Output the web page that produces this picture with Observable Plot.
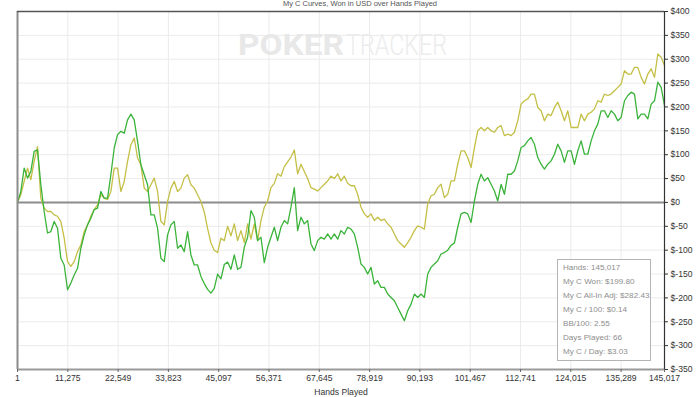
<!DOCTYPE html>
<html><head><meta charset="utf-8">
<script src="https://cdn.jsdelivr.net/npm/d3@7"></script>
<script src="https://cdn.jsdelivr.net/npm/@observablehq/plot@0.6"></script>
<style>
body{margin:0;background:#fff;}
#wrap{position:relative;width:700px;height:397px;overflow:hidden;font-family:"Liberation Sans",Arial,sans-serif;background:#fff;}
#title{position:absolute;left:0;width:720px;top:0px;text-align:center;font-size:7.5px;line-height:8px;color:#555;}
#stats{position:absolute;left:557px;top:259px;width:94px;height:102px;border:1px solid #b4b4b4;background:#fff;box-sizing:border-box;padding:1px 0 0 5px;font-size:8.1px;line-height:14px;color:#8e8e8e;white-space:nowrap;}
#wm{position:absolute;left:0;top:0;pointer-events:none;}
#plotbox{position:absolute;left:0;top:0;}
</style></head><body><div id="wrap"><div id="plotbox"></div><svg id="wm" width="700" height="397"></svg><div id="title"></div><div id="stats"></div></div>
<script>
const titleText = "My C Curves, Won in USD over Hands Played";
const xLabel = "Hands Played";
const xTicks = [1, 11275, 22549, 33823, 45097, 56371, 67645, 78919, 90193, 101467, 112741, 124015, 135289, 145017];
const yTicks = [-350, -300, -250, -200, -150, -100, -50, 0, 50, 100, 150, 200, 250, 300, 350, 400];
const totalHands = 145017;
const statLines = ["Hands: 145,017", "My C Won: $199.80", "My C All-In Adj: $282.43", "My C / 100: $0.14", "BB/100: 2.55", "Days Played: 66", "My C / Day: $3.03"];

// My C Won (green), sampled evenly over hands 1..145,017
const wonValues = [0,23,72,51,65,107,110,37,-19,-64,-61,-40,-54,-117,-131,-183,-169,-152,-138,-96,
-68,-47,-33,-15,-12,23,9,9,58,114,142,149,145,173,185,173,128,79,58,37,
-26,-26,-54,-117,-124,-68,-47,-40,-96,-89,-103,-61,-110,-131,-131,-155,-170,-182,-190,-180,
-150,-160,-130,-125,-140,-110,-140,-136,-94,-73,-17,-31,-80,-73,-126,-94,-73,-52,-80,-52,
-38,-45,-10,31,-59,-31,-45,-38,-87,-101,-80,-73,-77,-66,-77,-66,-77,-59,-66,-52,
-56,-66,-94,-129,-136,-150,-136,-171,-164,-178,-178,-192,-199,-206,-220,-234,-248,-227,-213,-192,
-199,-192,-199,-150,-136,-129,-122,-108,-105,-100,-90,-85,-52,-24,-21,-24,-42,3,38,59,
45,52,38,24,3,38,17,59,59,66,87,115,119,129,136,122,94,80,70,80,
87,101,122,108,84,108,108,80,108,129,101,101,129,150,164,192,192,178,192,185,
171,178,213,224,231,227,175,185,185,175,206,213,252,241,203];

// My C All-In Adj (olive)
const allInValues = [0,16,44,72,48,86,117,9,-12,-19,-19,-26,-29,-40,-75,-124,-134,-124,-103,-89,
-61,-47,-29,-15,-5,16,9,6,23,72,72,23,44,86,121,135,93,79,30,23,
37,51,23,-40,-47,2,30,44,23,30,51,58,37,30,16,2,-20,-55,-85,-100,
-105,-75,-80,-50,-70,-45,-80,-59,-84,-45,-77,-45,-80,-38,-10,3,31,40,60,55,
75,85,95,110,60,80,65,50,31,28,24,31,38,45,55,50,60,45,55,40,
35,35,17,-10,-24,-31,-24,-38,-31,-38,-35,-45,-52,-66,-80,-87,-94,-84,-73,-59,
-49,-52,-56,-3,14,17,31,38,10,17,45,45,80,108,108,94,73,115,150,157,
150,157,150,147,157,161,140,143,140,147,171,206,213,217,227,227,199,192,171,185,
182,199,210,192,171,192,157,157,157,185,171,185,189,196,213,210,227,224,227,234,
241,248,276,269,269,283,283,262,248,269,280,262,311,304,287];

const step = (totalHands - 1) / (wonValues.length - 1);
const wonData = wonValues.map((v, i) => ({hands: 1 + i * step, value: v}));
const allInData = allInValues.map((v, i) => ({hands: 1 + i * step, value: v}));

const chart = Plot.plot({
  width: 700, height: 397,
  marginTop: 11, marginBottom: 28, marginLeft: 17, marginRight: 36,
  style: {fontFamily: '"Liberation Sans", Arial, sans-serif', fontSize: "8.6px", color: "#333", background: "transparent", overflow: "visible"},
  x: {type: "linear", domain: [1, totalHands]},
  y: {domain: [-350, 400]},
  marks: [
    Plot.gridX(xTicks, {stroke: "#ebebeb", strokeOpacity: 1}),
    Plot.gridY(yTicks, {stroke: "#ebebeb", strokeOpacity: 1}),
    Plot.ruleY([0], {stroke: "#8c8c8c", strokeWidth: 2}),
    Plot.line(allInData, {x: "hands", y: "value", stroke: "#c4bf46", strokeWidth: 1.3}),
    Plot.line(wonData, {x: "hands", y: "value", stroke: "#3bb33b", strokeWidth: 1.3}),
    Plot.ruleX([1], {stroke: "#8c8c8c", strokeWidth: 2}),
    Plot.ruleY([400], {stroke: "#555", strokeWidth: 1.5}),
    Plot.ruleY([-350], {stroke: "#9a9a9a", strokeWidth: 2}),
    Plot.ruleX([totalHands], {stroke: "#333", strokeWidth: 1.2}),
    Plot.axisX(xTicks, {tickFormat: d3.format(","), tickSize: 3, tickPadding: 2, stroke: "#666", fill: "#333",
      label: xLabel, labelAnchor: "center", labelArrow: "none", labelOffset: 25}),
    Plot.axisY(yTicks, {anchor: "right", tickFormat: d => "$" + d, tickSize: 3, tickPadding: 3, stroke: "#333", fill: "#333", label: null})
  ]
});
document.getElementById("plotbox").appendChild(chart);
document.getElementById("title").textContent = titleText;
document.getElementById("stats").innerHTML = statLines.map(s => `<div>${s}</div>`).join("");

// watermark
const wm = d3.select("#wm");
wm.append("text").attr("x", 238).attr("y", 55).attr("font-family", "Roboto, 'Liberation Sans', sans-serif")
  .attr("font-weight", 700).attr("font-size", 30).attr("fill", "#e8e8e8")
  .attr("textLength", 106).attr("lengthAdjust", "spacingAndGlyphs").text("POKER");
wm.append("text").attr("x", 346).attr("y", 55).attr("font-family", "Roboto, 'Liberation Sans', sans-serif")
  .attr("font-weight", 300).attr("font-size", 30).attr("fill", "#ececec")
  .attr("textLength", 101).attr("lengthAdjust", "spacingAndGlyphs").text("TRACKER");
</script>
</body></html>
